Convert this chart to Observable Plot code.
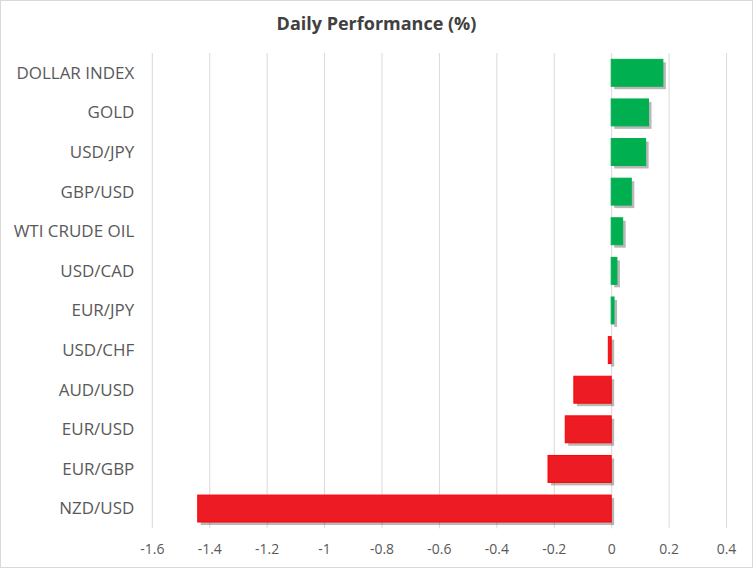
<!DOCTYPE html>
<html>
<head>
<meta charset="utf-8">
<script src="https://cdn.jsdelivr.net/npm/d3@7"></script>
<script src="https://cdn.jsdelivr.net/npm/@observablehq/plot@0.6"></script>
<style>
  html, body { margin: 0; padding: 0; background: #fff; }
  #frame { position: relative; width: 753px; height: 568px; box-sizing: border-box; border: 1px solid #d9d9d9; overflow: hidden; background: #fff; }
  #title { position: absolute; left: 0; top: 10px; width: 100%; text-align: center; font-family: "Open Sans", sans-serif; font-weight: bold; font-size: 18px; color: #404040; }
  #chart { position: absolute; left: -1px; top: 39px; }
</style>
</head>
<body>
<div id="frame">
  <div id="title">Daily Performance (%)</div>
  <div id="chart"></div>
</div>
<script>
const categories = ["DOLLAR INDEX", "GOLD", "USD/JPY", "GBP/USD", "WTI CRUDE OIL", "USD/CAD", "EUR/JPY", "USD/CHF", "AUD/USD", "EUR/USD", "EUR/GBP", "NZD/USD"];
const values = [0.18, 0.13, 0.12, 0.07, 0.04, 0.02, 0.01, -0.01, -0.13, -0.16, -0.22, -1.44];
const xTicks = [-1.6, -1.4, -1.2, -1, -0.8, -0.6, -0.4, -0.2, 0, 0.2, 0.4];

const data = categories.map((c, i) => ({name: c, value: values[i]}));

const chart = Plot.plot({
  width: 753,
  height: 529,
  marginLeft: 152,
  marginRight: 26,
  marginTop: 13,
  marginBottom: 40,
  style: {fontFamily: "'Open Sans', sans-serif", color: "#595959", background: "transparent"},
  x: {domain: [-1.6, 0.4], ticks: xTicks, label: null},
  y: {domain: categories, label: null, paddingInner: 0.32, paddingOuter: 0.16, align: 0.5, round: false},
  marks: [
    Plot.gridX(xTicks, {stroke: "#d9d9d9", strokeOpacity: 1, strokeWidth: 1}),
    Plot.barX(data, {x: "value", y: "name", fill: "#000", fillOpacity: 0.28, dx: 3, dy: 3, ariaLabel: "shadow"}),
    Plot.barX(data, {x: "value", y: "name", fill: d => d.value >= 0 ? "#00b050" : "#ed1c24", stroke: d => d.value >= 0 ? "#00b050" : "#ff0000", strokeWidth: 1, ariaLabel: "bars"}),
    Plot.axisX({ticks: xTicks, tickSize: 0, tickPadding: 15, fontSize: 14, stroke: "none", tickFormat: d => String(d)}),
    Plot.axisY({tickSize: 0, tickPadding: 18, fontSize: 17})
  ]
});
document.getElementById("chart").appendChild(chart);
const sh = chart.querySelector('g[aria-label="shadow"]');
if (sh) sh.style.filter = "blur(1.5px)";
</script>
</body>
</html>
